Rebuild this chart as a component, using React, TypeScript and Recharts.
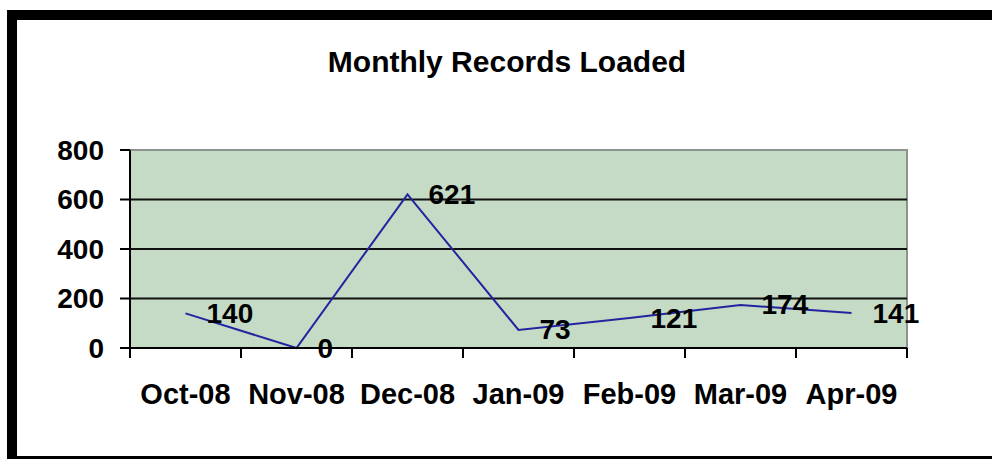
import React from 'react';
import {
  LineChart,
  Line,
  XAxis,
  YAxis,
  ReferenceArea,
  ReferenceLine,
  LabelList,
  Customized,
} from 'recharts';

const categories = ['Oct-08', 'Nov-08', 'Dec-08', 'Jan-09', 'Feb-09', 'Mar-09', 'Apr-09'];
const recordsLoaded = [140, 0, 621, 73, 121, 174, 141];
const yTicks = [0, 200, 400, 600, 800];
const gridValues = [200, 400, 600];
const chartTitle = 'Monthly Records Loaded';

const data = categories.map((month, i) => ({ month, value: recordsLoaded[i] }));

const FONT = '"Liberation Sans", Arial, sans-serif';

const XTick = (props: any) => {
  const { x, y, payload, index } = props;
  const half = payload && typeof payload.offset === 'number' && payload.offset > 0 ? payload.offset : 55.5;
  const last = index === categories.length - 1;
  return (
    <g>
      <line x1={x - half} x2={x - half} y1={y} y2={y + 10} stroke="#000" strokeWidth={2} />
      {last && <line x1={x + half} x2={x + half} y1={y} y2={y + 10} stroke="#000" strokeWidth={2} />}
      <text
        x={x}
        y={y + 56}
        textAnchor="middle"
        fontFamily={FONT}
        fontWeight="bold"
        fontSize={29}
        fill="#000"
      >
        {payload.value}
      </text>
    </g>
  );
};

const ValueLabel = (props: any) => {
  const { x, y, value } = props;
  return (
    <text
      x={x + 21}
      y={y}
      dominantBaseline="central"
      textAnchor="start"
      fontFamily={FONT}
      fontWeight="bold"
      fontSize={28}
      fill="#000"
    >
      {value}
    </text>
  );
};

const Title = () => (
  <text
    x={507}
    y={72}
    textAnchor="middle"
    fontFamily={FONT}
    fontWeight="bold"
    fontSize={30}
    fill="#000"
  >
    {chartTitle}
  </text>
);

export default function App() {
  return (
    <div
      style={{
        position: 'absolute',
        left: 0,
        top: 0,
        width: 992,
        height: 459,
        overflow: 'hidden',
        background: '#fff',
      }}
    >
      <div
        style={{
          position: 'absolute',
          left: 7,
          top: 10,
          width: 1010,
          height: 456,
          boxSizing: 'border-box',
          border: '10px solid #000',
        }}
      />
      <div style={{ position: 'absolute', left: 0, top: 0 }}>
        <LineChart
          width={992}
          height={459}
          data={data}
          margin={{ top: 150, right: 85, bottom: 51, left: 30 }}
        >
          <ReferenceArea
            y1={0}
            y2={800}
            fill="#c5dbc5"
            fillOpacity={1}
            stroke="#8c948c"
            strokeWidth={2}
            ifOverflow="extendDomain"
          />
          {gridValues.map((v) => (
            <ReferenceLine key={v} y={v} stroke="#111" strokeWidth={2} />
          ))}
          <XAxis
            dataKey="month"
            scale="band"
            height={60}
            axisLine={{ stroke: '#000', strokeWidth: 2 }}
            tickLine={false}
            tickSize={0}
            tickMargin={0}
            tick={<XTick />}
            interval={0}
          />
          <YAxis
            width={100}
            domain={[0, 800]}
            ticks={yTicks}
            interval={0}
            axisLine={{ stroke: '#000', strokeWidth: 2 }}
            tickLine={{ stroke: '#000', strokeWidth: 2 }}
            tickSize={10}
            tickMargin={16}
            tick={{ fill: '#000', fontSize: 28, fontWeight: 'bold', fontFamily: FONT }}
          />
          <Line
            type="linear"
            dataKey="value"
            stroke="#2424a0"
            strokeWidth={2}
            dot={false}
            isAnimationActive={false}
          >
            <LabelList dataKey="value" content={<ValueLabel />} />
          </Line>
          <Customized component={<Title />} />
        </LineChart>
      </div>
    </div>
  );
}
